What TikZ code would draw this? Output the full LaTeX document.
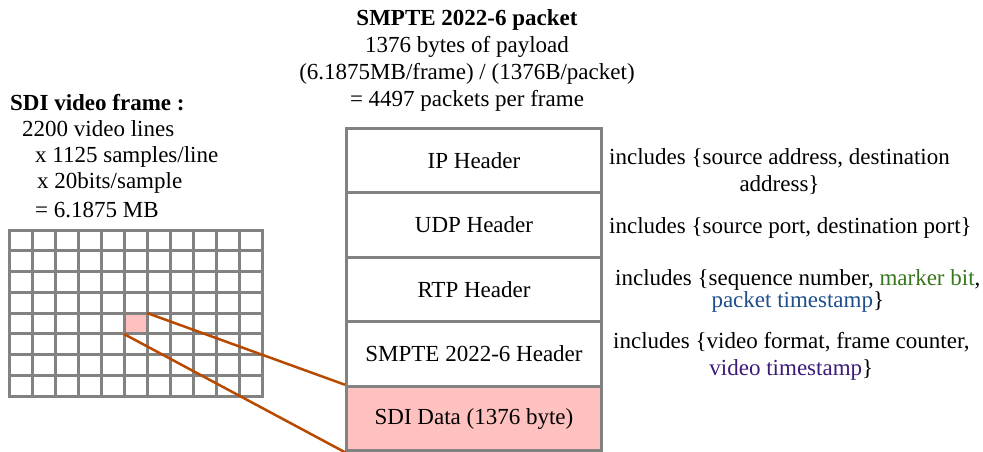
\documentclass[tikz,border=0pt]{standalone}
\usepackage{fontspec}
\setmainfont{Liberation Serif}
\definecolor{boxgray}{HTML}{828282}
\definecolor{pinkfill}{HTML}{FFC0C0}
\definecolor{linkbrown}{HTML}{B84A00}
\definecolor{markgreen}{HTML}{38761D}
\definecolor{tsblue}{HTML}{1F4E8C}
\definecolor{tspurple}{HTML}{3C1A78}
\begin{document}
\begin{tikzpicture}[x=1pt,y=-1pt,
  txt/.style={inner sep=0pt,font=\fontsize{23}{27}\selectfont},
  layer/.style={draw=boxgray,line width=3pt,minimum width=255pt,minimum height=64.5pt,inner sep=0pt,font=\fontsize{23}{27}\selectfont},
  gridline/.style={draw=boxgray,line width=3pt},
  link/.style={draw=linkbrown,line width=2.5pt}]
\useasboundingbox (0,0) rectangle (983,451);
% title
\node[txt,align=center,anchor=north] (title) at (467,9) {\textbf{SMPTE 2022-6 packet}\\1376 bytes of payload\\(6.1875MB/frame) / (1376B/packet)\\= 4497 packets per frame};
% left text
\node[txt,anchor=west] (sdi) at (10,103) {\textbf{SDI video frame :}};
\node[txt,anchor=west] (l1) at (22,129) {2200 video lines};
\node[txt,anchor=west] (l2) at (35,157) {x 1125 samples/line};
\node[txt,anchor=west] (l3) at (37,183) {x 20bits/sample};
\node[txt,anchor=west] (l4) at (35,210) {= 6.1875 MB};
% grid
\fill[pinkfill] (124,313) rectangle (147,334);
\foreach \i in {0,...,11} \draw[gridline] ({9+23*\i},230) -- ({9+23*\i},396);
\foreach \j in {0,...,8} \draw[gridline] (9,{230+20.75*\j}) -- (262,{230+20.75*\j});
\draw[gridline] (9,230) rectangle (262,396);
\coordinate (pTR) at (147,313);
\coordinate (pBL) at (124,334);
% packet layers
\node[layer] (ip) at (474,160.5) {IP Header};
\node[layer] (udp) at (474,225) {UDP Header};
\node[layer] (rtp) at (474,289.5) {RTP Header};
\node[layer] (smh) at (474,354) {SMPTE 2022-6 Header};
\node[layer,fill=pinkfill] (data) at (474,418.5) {SDI Data (1376 byte)};
% links
\draw[link] (pTR) -- (data.north west);
\draw[link] (pBL) -- (data.south west);
% right annotations
\node[txt,align=center,anchor=north west] (a1) at (609,148) {includes \{source address, destination\\address\}};
\node[txt,anchor=west] (a2) at (609,228) {includes \{source port, destination port\}};
\node[txt,align=center,anchor=north west,font=\fontsize{23}{22}\selectfont] (a3) at (615,269) {includes \{sequence number, \textcolor{markgreen}{marker bit},\\\textcolor{tsblue}{packet timestamp}\}};
\node[txt,align=center,anchor=north west] (a4) at (613,332) {includes \{video format, frame counter,\\\textcolor{tspurple}{video timestamp}\}};
\end{tikzpicture}
\end{document}
